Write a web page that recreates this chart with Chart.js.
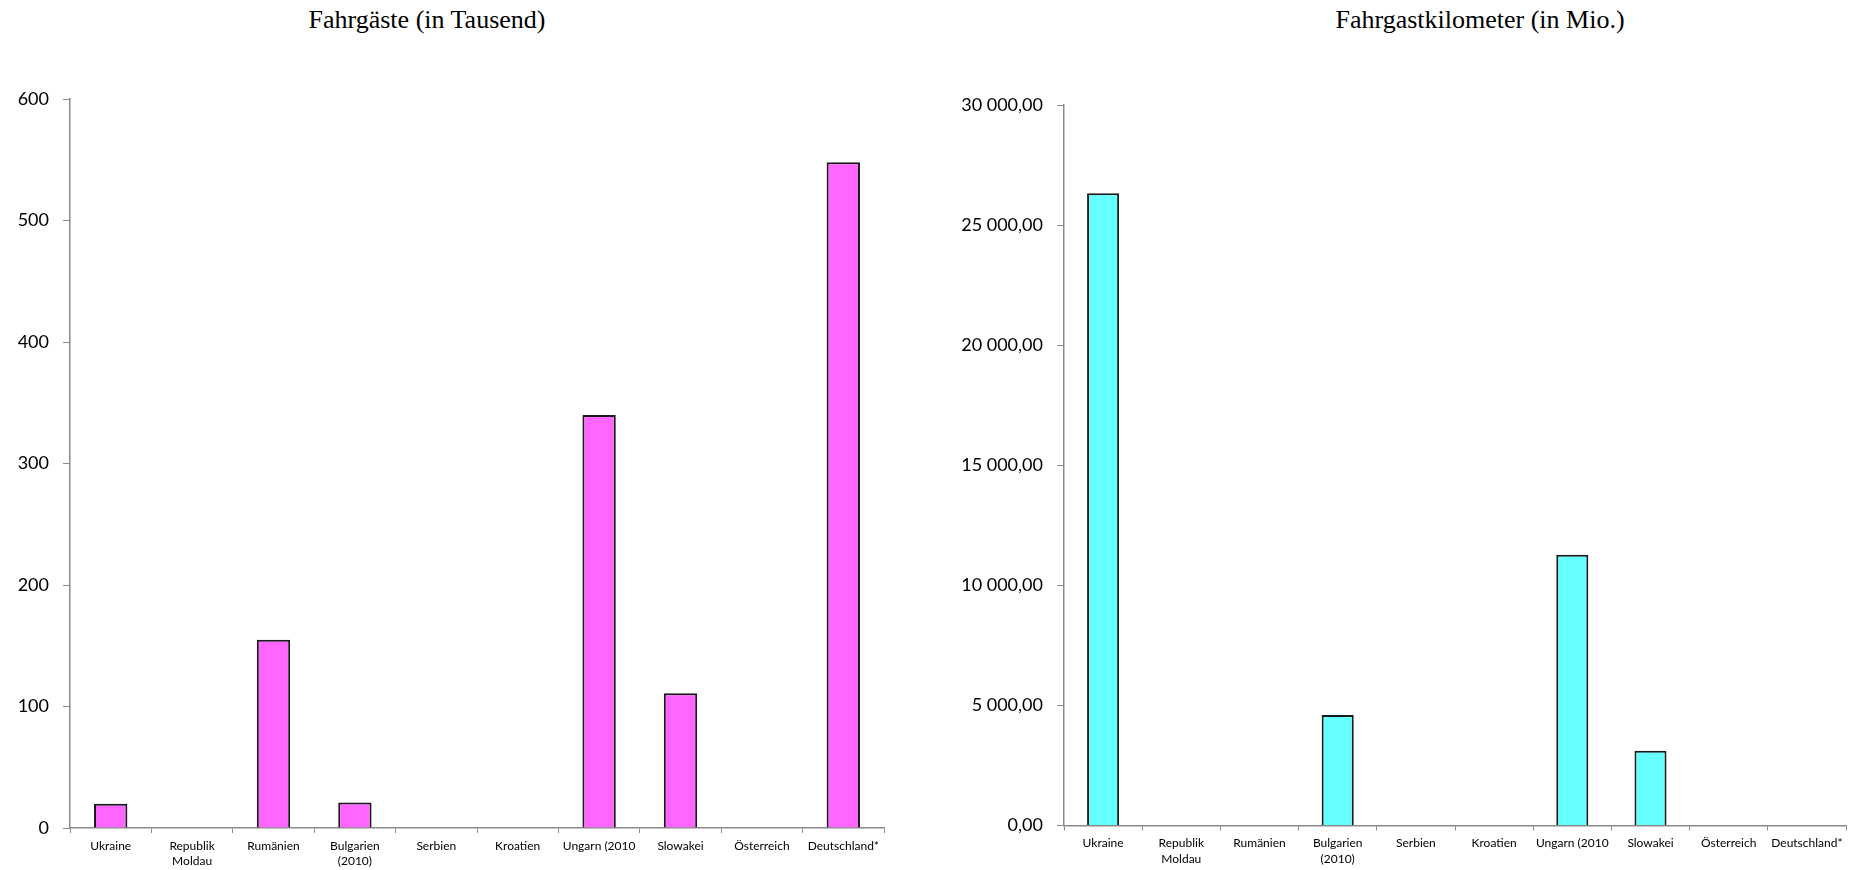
<!DOCTYPE html>
<html>
<head>
<meta charset="utf-8">
<script src="https://cdn.jsdelivr.net/npm/chart.js@4/dist/chart.umd.min.js"></script>
<style>
    body { margin: 0; background: #fff; }
    #wrap { position: relative; width: 1853px; height: 870px; overflow: hidden; }
    .box { position: absolute; top: 0; height: 870px; }
    .title {
        position: absolute; top: 5px; width: 400px; text-align: center;
        font-family: "Liberation Serif", "Times New Roman", serif; font-size: 26px; line-height: 30px; color: #000;
    }
</style>
</head>
<body>
<div id="wrap">
    <div class="title" style="left: 227px;">Fahrgäste (in Tausend)</div>
    <div class="title" style="left: 1280px;">Fahrgastkilometer (in Mio.)</div>
    <div class="box" style="left: 0; width: 900px;"><canvas id="leftChart"></canvas></div>
    <div class="box" style="left: 900px; width: 953px;"><canvas id="rightChart"></canvas></div>
</div>
<script>
const countries = ['Ukraine', ['Republik', 'Moldau'], 'Rumänien', ['Bulgarien', '(2010)'], 'Serbien',
    'Kroatien', 'Ungarn (2010', 'Slowakei', 'Österreich', 'Deutschland*'];

// Fahrgäste (in Tausend)
const passengers = [20, null, 155, 21, null, null, 340, 111, null, 548];
// Fahrgastkilometer (in Mio.)
const passengerKm = [26330, null, null, 4600, null, null, 11270, 3110, null, null];

const leftTicks = {max: 600, step: 100};
const rightTicks = {max: 30000, step: 5000};

const axisGrey = '#8a8a8a';
const tickFont = {family: 'Lato, "Open Sans", sans-serif', size: 18};
const catFont = {family: 'Lato, "Open Sans", sans-serif', size: 12, lineHeight: 1.3};

// 30000 -> "30 000,00"
function formatDe(v) {
    const parts = Number(v).toFixed(2).split('.');
    const intPart = parts[0].replace(/\B(?=(\d{3})+(?!\d))/g, ' ');
    return intPart + ',' + parts[1];
}

function makeChart(id, values, colour, yTicks, yWidth, padding, fmt) {
    const ctx = document.getElementById(id).getContext('2d');
    return new Chart(ctx, {
        type: 'bar',
        data: {
            labels: countries,
            datasets: [{
                data: values,
                backgroundColor: colour,
                borderColor: '#1a1a1a',
                borderWidth: 2,
                categoryPercentage: 1,
                barPercentage: 0.41
            }]
        },
        options: {
            responsive: true,
            maintainAspectRatio: false,
            animation: false,
            layout: {padding: padding},
            plugins: {
                legend: {display: false},
                tooltip: {enabled: false}
            },
            scales: {
                x: {
                    grid: {
                        offset: true,
                        drawOnChartArea: false,
                        drawTicks: true,
                        tickLength: 5,
                        tickColor: axisGrey
                    },
                    border: {color: axisGrey, width: 1.5},
                    ticks: {
                        color: '#000',
                        font: catFont,
                        padding: 5,
                        maxRotation: 0,
                        autoSkip: false
                    },
                    afterFit: function (scale) {
                        scale.height = 40;
                    }
                },
                y: {
                    min: 0,
                    max: yTicks.max,
                    grid: {
                        drawOnChartArea: false,
                        drawTicks: true,
                        tickLength: 7,
                        tickColor: axisGrey
                    },
                    border: {color: axisGrey, width: 1.5},
                    ticks: {
                        stepSize: yTicks.step,
                        color: '#000',
                        font: tickFont,
                        padding: 14,
                        callback: fmt
                    },
                    afterFit: function (scale) {
                        scale.width = yWidth;
                    }
                }
            }
        }
    });
}

makeChart('leftChart', passengers, '#ff66ff', leftTicks, 70,
    {top: 99, right: 16, bottom: 2, left: 0}, v => v);
makeChart('rightChart', passengerKm, '#66ffff', rightTicks, 164,
    {top: 105, right: 7, bottom: 4.5, left: 0}, v => formatDe(v));
</script>
</body>
</html>
